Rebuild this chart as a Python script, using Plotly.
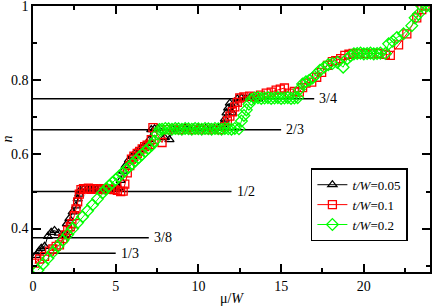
import plotly.graph_objects as go

# ---------------- data ----------------
# t/W = 0.05 (black triangles)
x_b = [0.2, 0.35, 0.5, 0.7, 0.9, 1.1, 1.3, 1.55, 1.8, 2.0, 2.05, 2.2, 2.4, 2.6, 2.7,
       2.8, 2.85, 3.05, 3.25, 3.45, 3.65, 3.85, 4.05, 4.25, 4.45, 4.65, 4.85, 5.05, 5.2, 5.3,
       5.45, 5.6, 5.8, 6.0, 6.2, 6.45, 6.7, 6.9, 7.05, 7.15, 7.35, 7.55, 7.95, 8.25, 8.45,
       8.7, 8.95, 9.2, 9.45, 9.7, 9.95, 10.2, 10.45, 10.7, 10.95, 11.2, 11.45, 11.6, 11.7, 11.8,
       11.9, 12.05, 12.2, 12.35, 12.6, 12.85, 13.1, 13.35, 13.6]
y_b = [0.328, 0.338, 0.347, 0.352, 0.379, 0.39, 0.395, 0.388, 0.381, 0.384, 0.413, 0.427, 0.445, 0.461, 0.48,
       0.493, 0.503, 0.506, 0.505, 0.507, 0.505, 0.506, 0.507, 0.505, 0.506, 0.505, 0.507, 0.506, 0.51, 0.53,
       0.555, 0.57, 0.585, 0.595, 0.605, 0.613, 0.622, 0.63, 0.64, 0.667, 0.669, 0.67, 0.645, 0.64, 0.668,
       0.67, 0.669, 0.671, 0.669, 0.67, 0.671, 0.669, 0.67, 0.671, 0.669, 0.67, 0.68, 0.695, 0.712, 0.725,
       0.738, 0.712, 0.735, 0.75, 0.752, 0.751, 0.752, 0.751, 0.75]

# t/W = 0.1 (red squares)
x_r = [0.1, 0.4, 0.7, 1.0, 1.2, 1.4, 1.6, 1.8, 1.95, 2.1, 2.25, 2.35, 2.5, 2.6, 2.7,
       2.8, 2.9, 3.05, 3.2, 3.35, 3.5, 3.7, 3.9, 4.1, 4.3, 4.5, 4.7, 4.9, 5.1, 5.3,
       5.45, 5.55, 5.7, 5.85, 5.95, 6.1, 6.3, 6.45, 6.6, 6.75, 6.9, 7.05, 7.15, 7.25, 7.8,
       8.1, 8.5, 8.9, 9.3, 9.7, 10.1, 10.5, 10.9, 11.3, 11.6, 11.75, 11.9, 12.05, 12.2, 12.35,
       12.5, 12.75, 13.1, 13.4, 13.75, 14.1, 14.4, 14.7, 14.95, 15.2, 15.5, 15.8, 16.1, 16.3, 16.5,
       16.85, 17.15, 17.45, 17.8, 18.1, 18.3, 18.6, 18.85, 19.1, 19.35, 19.7, 20.1, 20.5, 20.9, 21.3,
       21.6, 22.1, 22.6, 23.2, 23.5, 23.7]
y_r = [0.307, 0.318, 0.325, 0.339, 0.345, 0.352, 0.356, 0.373, 0.383, 0.395, 0.405, 0.413, 0.435, 0.453, 0.472,
       0.493, 0.505, 0.508, 0.507, 0.509, 0.506, 0.508, 0.507, 0.505, 0.508, 0.506, 0.507, 0.505, 0.503, 0.5,
       0.501, 0.52, 0.55, 0.57, 0.587, 0.595, 0.603, 0.608, 0.615, 0.621, 0.625, 0.627, 0.64, 0.672, 0.632,
       0.667, 0.668, 0.667, 0.668, 0.667, 0.668, 0.667, 0.668, 0.667, 0.675, 0.69, 0.703, 0.715, 0.728, 0.74,
       0.752, 0.755, 0.757, 0.755, 0.76, 0.765, 0.768, 0.773, 0.776, 0.779, 0.765, 0.77, 0.768, 0.78, 0.792,
       0.795, 0.808, 0.821, 0.84, 0.85, 0.853, 0.858, 0.867, 0.87, 0.872, 0.871, 0.872, 0.871, 0.872, 0.87,
       0.867, 0.895, 0.925, 0.968, 0.99, 1.0]

# t/W = 0.2 (green diamonds)
x_g = [0.3, 0.6, 0.9, 1.2, 1.5, 1.8, 2.1, 2.4, 2.7, 3.0, 3.3, 3.6, 3.9, 4.2, 4.4,
       4.6, 4.8, 5.0, 5.2, 5.4, 5.6, 5.8, 6.0, 6.2, 6.4, 6.6, 6.8, 7.0, 7.2, 7.35,
       7.5, 7.65, 7.8, 8.0, 8.2, 8.4, 8.6, 8.8, 9.0, 9.2, 9.4, 9.6, 9.8, 10.0, 10.2,
       10.4, 10.6, 10.8, 11.0, 11.2, 11.4, 11.6, 11.8, 12.0, 12.2, 12.45, 12.6, 12.75, 12.9, 13.05,
       13.2, 13.4, 13.6, 13.8, 14.0, 14.2, 14.4, 14.6, 14.8, 15.0, 15.2, 15.4, 15.6, 15.8, 16.0,
       16.1, 16.3, 16.5, 16.7, 16.9, 17.1, 17.35, 17.6, 17.85, 18.1, 18.4, 18.75, 19.0, 19.2, 19.4,
       19.6, 19.8, 20.0, 20.2, 20.4, 20.6, 20.8, 21.0, 21.3, 21.5, 21.75, 22.0, 22.4, 22.9, 23.1,
       23.3, 23.5, 23.8, 24.0]
y_g = [0.288, 0.304, 0.320, 0.336, 0.352, 0.368, 0.384, 0.400, 0.416, 0.432, 0.448, 0.464, 0.480, 0.496, 0.507,
       0.515, 0.524, 0.532, 0.541, 0.549, 0.558, 0.566, 0.575, 0.583, 0.592, 0.600, 0.609, 0.617, 0.626, 0.636,
       0.655, 0.667, 0.668, 0.670, 0.669, 0.668, 0.670, 0.669, 0.668, 0.670, 0.669, 0.668, 0.670, 0.669, 0.668,
       0.670, 0.669, 0.668, 0.670, 0.669, 0.668, 0.670, 0.669, 0.668, 0.670, 0.669, 0.690, 0.705, 0.720, 0.735,
       0.748, 0.752, 0.753, 0.751, 0.752, 0.753, 0.751, 0.752, 0.753, 0.751, 0.752, 0.753, 0.751, 0.752, 0.753,
       0.775, 0.790, 0.796, 0.800, 0.806, 0.815, 0.827, 0.835, 0.842, 0.845, 0.848, 0.835, 0.858, 0.866, 0.871,
       0.872, 0.873, 0.871, 0.872, 0.873, 0.871, 0.872, 0.873, 0.872, 0.898, 0.905, 0.915, 0.925, 0.947, 0.968,
       0.978, 1.0, 1.0, 1.0]

# commensurate fillings (reference lines)
fill_values = [1/3, 3/8, 1/2, 2/3, 3/4]
fill_labels = ["1/3", "3/8", "1/2", "2/3", "3/4"]
fill_line_end = [5.0, 7.0, 12.0, 15.0, 17.0]

series_names = ["<i>t/W</i>=0.05", "<i>t/W</i>=0.1", "<i>t/W</i>=0.2"]

x_ticks = [0, 5, 10, 15, 20]
y_ticks = [0.4, 0.6, 0.8, 1.0]
y_tick_text = ["0.4", "0.6", "0.8", "1"]

# ---------------- figure ----------------
FONT = "Liberation Serif, Times New Roman, serif"
fig = go.Figure()

for v, xe in zip(fill_values, fill_line_end):
    fig.add_trace(go.Scatter(x=[0, xe], y=[v, v], mode="lines",
                             line=dict(color="black", width=1.5),
                             showlegend=False, hoverinfo="skip"))

styles = [
    (x_b, y_b, "black", "triangle-up-open", 8),
    (x_r, y_r, "#ff0000", "square-open", 8),
    (x_g, y_g, "#00ff00", "diamond-open", 9),
]
for (xs, ys, col, sym, sz), name in zip(styles, series_names):
    fig.add_trace(go.Scatter(
        x=xs, y=ys, mode="lines+markers", name=name,
        line=dict(color=col, width=1),
        marker=dict(symbol=sym, size=sz, color=col, line=dict(color=col, width=1.3)),
    ))

for v, xe, lab in zip(fill_values, fill_line_end, fill_labels):
    fig.add_annotation(x=xe, y=v, text=lab, showarrow=False, xanchor="left",
                       yanchor="middle", xshift=3,
                       font=dict(family=FONT, size=14, color="black"))

axis_common = dict(
    showgrid=False, zeroline=False, showline=True, linecolor="black", linewidth=1.5,
    ticks="inside", ticklen=8, tickwidth=1.5, tickcolor="black", mirror="ticks",
    tickfont=dict(family=FONT, size=14, color="black"),
    ticklabeloverflow="allow",
)

fig.update_xaxes(range=[0, 24], tickvals=x_ticks,
                 minor=dict(tickvals=[2.5, 7.5, 12.5, 17.5, 22.5], ticks="inside", ticklen=4,
                            tickwidth=1.5, tickcolor="black"),
                 title=dict(text="μ/<i>W</i>", font=dict(family=FONT, size=14, color="black"),
                            standoff=4),
                 **axis_common)
fig.update_yaxes(range=[0.283, 1.0], tickvals=y_ticks, ticktext=y_tick_text,
                 minor=dict(tickvals=[0.3, 0.5, 0.7, 0.9], ticks="inside", ticklen=4,
                            tickwidth=1.5, tickcolor="black"),
                 title=dict(text="<i>n</i>", font=dict(family=FONT, size=14, color="black"),
                            standoff=4),
                 **axis_common)

fig.update_layout(
    width=436, height=306,
    margin=dict(l=33, r=6, t=6, b=34, autoexpand=False),
    paper_bgcolor="white", plot_bgcolor="white",
    font=dict(family=FONT, size=14, color="black"),
    legend=dict(x=0.70, y=0.39, xanchor="left", yanchor="top",
                bgcolor="white", bordercolor="black", borderwidth=1.5,
                font=dict(family=FONT, size=13, color="black"),
                tracegroupgap=0, itemwidth=30),
    showlegend=True,
)

fig.write_html("out.html", config={"displayModeBar": False})

# remove the default page margin so the figure sits at the window's top-left corner
with open("out.html", "r", encoding="utf-8") as f:
    html = f.read()
html = html.replace("<head>", "<head><style>html,body{margin:0;padding:0;overflow:hidden;}</style>", 1)
with open("out.html", "w", encoding="utf-8") as f:
    f.write(html)
